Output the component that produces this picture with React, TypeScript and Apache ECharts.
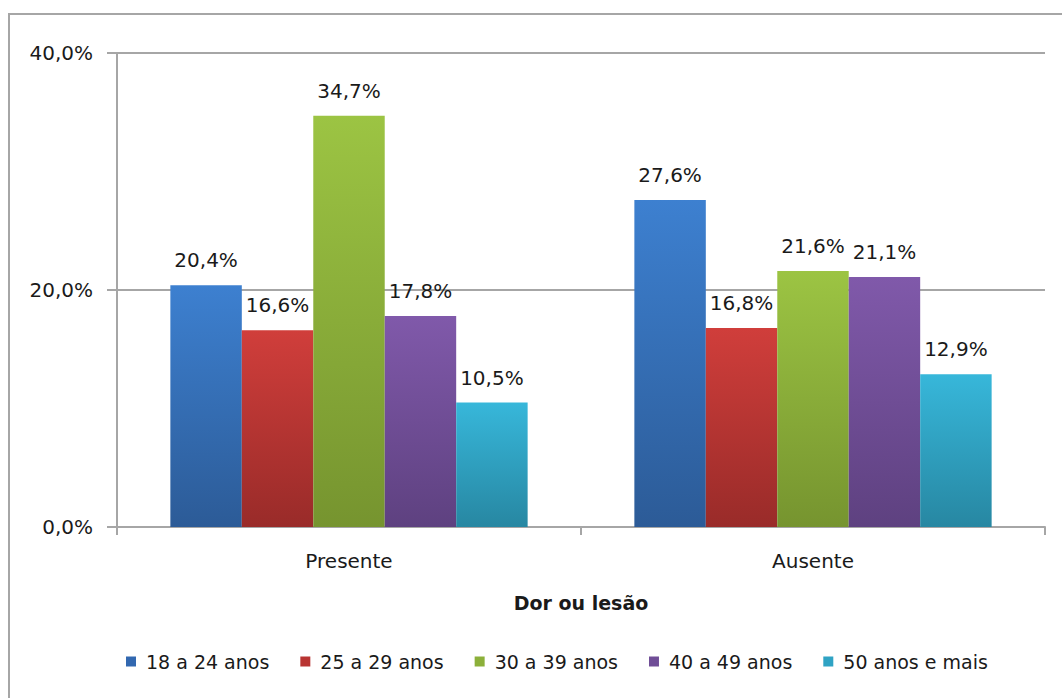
import React, { useEffect, useRef } from "react";
import * as echarts from "echarts";

const categories = ["Presente", "Ausente"];
const seriesNames = ["18 a 24 anos", "25 a 29 anos", "30 a 39 anos", "40 a 49 anos", "50 anos e mais"];
const age18to24 = [20.4, 27.6];
const age25to29 = [16.6, 16.8];
const age30to39 = [34.7, 21.6];
const age40to49 = [17.8, 21.1];
const age50plus = [10.5, 12.9];
const yTicks = [0, 20, 40];

const seriesValues = [age18to24, age25to29, age30to39, age40to49, age50plus];
// [top, bottom, legend swatch]
const palette: [string, string, string][] = [
  ["#3d80d0", "#2c5b97", "#3268b0"],
  ["#d03e3b", "#992b29", "#b83432"],
  ["#9cc443", "#76942f", "#8cb03a"],
  ["#8059aa", "#5e4180", "#704e97"],
  ["#37b7da", "#2787a2", "#2fa3c4"],
];

const FONT = "'DejaVu Sans', Verdana, sans-serif";
const TEXT = "#1a1a1a";
const GRAY = "#a6a6a6";

const pct = (v: number) => v.toFixed(1).replace(".", ",") + "%";

export default function App() {
  const ref = useRef<HTMLDivElement>(null);

  useEffect(() => {
    if (!ref.current) return;
    const chart = echarts.init(ref.current, undefined, { renderer: "svg" });
    chart.setOption({
      animation: false,
      backgroundColor: "#ffffff",
      textStyle: { fontFamily: FONT, color: TEXT },
      graphic: [
        {
          type: "rect",
          shape: { x: 9, y: 14, width: 1100, height: 720 },
          style: { fill: "none", stroke: GRAY, lineWidth: 2 },
          silent: true,
        },
      ],
      grid: { left: 117, top: 53, right: 17, bottom: 171 },
      legend: {
        left: 121,
        top: 647,
        icon: "rect",
        itemWidth: 10,
        itemHeight: 10,
        itemGap: 31,
        textStyle: { fontFamily: FONT, fontSize: 19, color: TEXT, padding: [0, 0, 0, 5] },
        data: seriesNames.map((name, i) => ({
          name,
          itemStyle: { color: palette[i][2] },
        })),
      },
      xAxis: {
        type: "category",
        data: categories,
        name: "Dor ou lesão",
        nameLocation: "middle",
        nameGap: 66,
        nameTextStyle: { fontFamily: FONT, fontSize: 19, fontWeight: "bold", color: TEXT, verticalAlign: "top" },
        axisLine: { lineStyle: { color: GRAY, width: 2 } },
        axisTick: { show: true, length: 8, lineStyle: { color: GRAY, width: 2 } },
        axisLabel: { fontFamily: FONT, fontSize: 20, color: TEXT, margin: 24 },
      },
      yAxis: {
        type: "value",
        min: yTicks[0],
        max: yTicks[yTicks.length - 1],
        interval: yTicks[1] - yTicks[0],
        axisLine: { show: true, lineStyle: { color: GRAY, width: 2 } },
        axisTick: { show: true, length: 10, lineStyle: { color: GRAY, width: 2 } },
        axisLabel: { fontFamily: FONT, fontSize: 20, color: TEXT, margin: 24, formatter: (v: number) => pct(v) },
        splitLine: { show: true, lineStyle: { color: GRAY, width: 2 } },
      },
      series: seriesNames.map((name, i) => ({
        name,
        type: "bar",
        data: seriesValues[i],
        barGap: "0%",
        barCategoryGap: "23%",
        itemStyle: {
          color: new echarts.graphic.LinearGradient(0, 0, 0, 1, [
            { offset: 0, color: palette[i][0] },
            { offset: 1, color: palette[i][1] },
          ]),
        },
        label: {
          show: true,
          position: "top",
          distance: 15,
          fontFamily: FONT,
          fontSize: 20,
          color: TEXT,
          formatter: (p: any) => pct(p.value),
        },
      })),
    });
    return () => chart.dispose();
  }, []);

  return (
    <div
      ref={ref}
      style={{ position: "absolute", left: 0, top: 0, width: 1062, height: 698 }}
    />
  );
}
